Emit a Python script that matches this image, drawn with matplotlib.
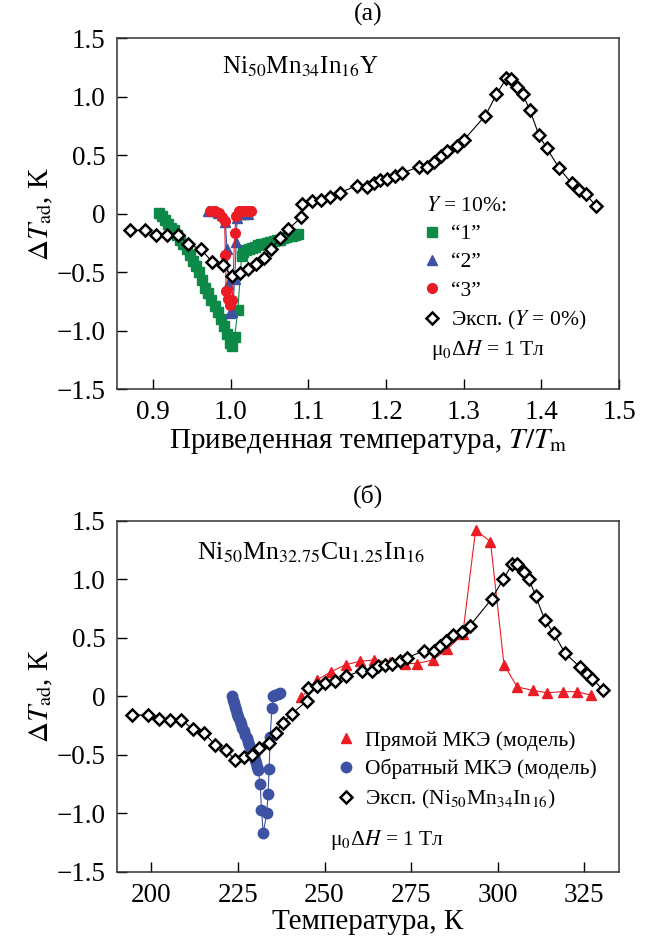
import matplotlib
matplotlib.use('Agg')
import matplotlib.pyplot as plt
from matplotlib.lines import Line2D

plt.rcParams['font.family'] = ['Liberation Serif', 'DejaVu Serif']
plt.rcParams['mathtext.fontset'] = 'stix'

# ---- (а) reduced temperature, Ni50Mn34In16Y ----
exp_a_x = [0.870, 0.890, 0.903, 0.918, 0.932, 0.945, 0.961, 0.976, 0.990, 1.001,
           1.012, 1.022, 1.032, 1.043, 1.052, 1.063, 1.074, 1.091, 1.092, 1.105,
           1.116, 1.128, 1.140, 1.162, 1.175, 1.184, 1.192, 1.201, 1.211, 1.221,
           1.242, 1.253, 1.262, 1.271, 1.279, 1.291, 1.300, 1.328, 1.342, 1.355,
           1.361, 1.369, 1.376, 1.385, 1.397, 1.407, 1.423, 1.439, 1.449, 1.457,
           1.470]
exp_a_y = [-0.14, -0.14, -0.18, -0.18, -0.18, -0.26, -0.30, -0.41, -0.44, -0.53,
           -0.51, -0.47, -0.43, -0.38, -0.30, -0.21, -0.13, -0.03, 0.08, 0.11,
           0.12, 0.14, 0.18, 0.24, 0.23, 0.26, 0.29, 0.30, 0.32, 0.35,
           0.40, 0.40, 0.44, 0.49, 0.54, 0.58, 0.63, 0.84, 1.02, 1.16,
           1.15, 1.08, 1.02, 0.89, 0.67, 0.56, 0.39, 0.26, 0.20, 0.17,
           0.07]

model1_x = [0.907, 0.911, 0.915, 0.919, 0.923, 0.927, 0.931, 0.935, 0.939, 0.943,
            0.947, 0.951, 0.955, 0.959, 0.963, 0.967, 0.971, 0.975, 0.979, 0.983,
            0.987, 0.991, 0.995, 0.999, 1.001, 1.005, 1.009,
            1.014, 1.016, 1.019, 1.023, 1.027, 1.031, 1.035, 1.039, 1.043, 1.047,
            1.051, 1.055, 1.059, 1.063, 1.067, 1.071, 1.075, 1.079, 1.083, 1.087]
model1_y = [0.01, -0.02, -0.05, -0.09, -0.12, -0.14, -0.18, -0.22, -0.26, -0.30,
            -0.35, -0.40, -0.45, -0.50, -0.57, -0.63, -0.68, -0.74, -0.79, -0.84,
            -0.90, -0.96, -1.03, -1.10, -1.13, -1.05, -0.82,
            -0.36, -0.33, -0.31, -0.30, -0.29, -0.28, -0.27, -0.26, -0.26, -0.25,
            -0.24, -0.23, -0.22, -0.22, -0.21, -0.20, -0.19, -0.19, -0.18, -0.17]

model2_x = [0.971, 0.977, 0.983, 0.989, 0.993, 0.995, 0.997, 0.999, 1.002, 1.005,
            1.007, 1.008, 1.012, 1.017, 1.022]
model2_y = [0.02, 0.02, 0.01, -0.01, -0.07, -0.30, -0.60, -0.85, -0.84, -0.56,
            -0.24, -0.04, 0.00, 0.00, 0.00]

model3_x = [0.973, 0.979, 0.985, 0.989, 0.992, 0.993, 0.994, 0.997, 0.999, 1.002,
            1.005, 1.007, 1.011, 1.015, 1.019, 1.023, 1.026]
model3_y = [0.02, 0.02, 0.01, -0.03, -0.06, -0.35, -0.66, -0.73, -0.78, -0.74,
            -0.16, -0.02, 0.02, 0.02, 0.02, 0.02, 0.02]

# ---- (б) temperature, Ni50Mn32.75Cu1.25In16 ----
exp_b_x = [194.4, 199.0, 202.1, 205.3, 208.7, 211.9, 215.2, 218.5, 221.5, 224.1,
           226.7, 229.0, 231.2, 234.0, 235.9, 237.9, 240.5, 244.9, 245.3, 247.9,
           250.2, 252.9, 256.2, 260.8, 263.7, 265.3, 267.5, 269.5, 271.9, 273.8,
           278.8, 281.5, 283.2, 285.2, 287.1, 289.7, 291.9, 298.2, 301.6, 304.2,
           305.6, 307.6, 309.0, 310.9, 313.6, 316.1, 319.4, 323.7, 325.7, 327.3,
           330.5]
exp_b_y = [-0.16, -0.16, -0.19, -0.20, -0.20, -0.28, -0.31, -0.42, -0.46, -0.54,
           -0.52, -0.50, -0.44, -0.40, -0.31, -0.23, -0.15, -0.04, 0.07, 0.09,
           0.11, 0.13, 0.17, 0.22, 0.22, 0.26, 0.27, 0.28, 0.30, 0.33,
           0.39, 0.39, 0.43, 0.47, 0.52, 0.55, 0.60, 0.83, 1.00, 1.13,
           1.13, 1.06, 1.00, 0.86, 0.65, 0.54, 0.37, 0.25, 0.19, 0.15,
           0.05]

direct_x = [243.3, 247.8, 251.9, 256.1, 260.3, 264.4, 268.8, 273.3, 276.7, 281.2,
            285.4, 289.9, 293.6, 297.9, 301.8, 305.6, 310.3, 314.3, 318.7, 322.8,
            326.9]
direct_y = [-0.01, 0.14, 0.21, 0.27, 0.30, 0.31, 0.29, 0.28, 0.28, 0.31,
            0.40, 0.53, 1.42, 1.32, 0.27, 0.08, 0.05, 0.03, 0.04, 0.04,
            0.01]

inverse_x = [223.2, 223.5, 223.8, 224.1, 224.4, 224.8, 225.1, 225.5, 225.9, 226.3,
             226.7, 227.1, 227.5, 227.9, 228.3, 228.7, 229.1, 229.5, 229.9, 230.3,
             230.6, 230.9, 231.4, 231.8, 232.3, 233.3, 233.7, 234.0, 234.3, 234.8,
             235.2, 235.8, 236.5, 237.2]
inverse_y = [0.00, -0.03, -0.06, -0.09, -0.12, -0.15, -0.18, -0.21, -0.24, -0.27,
             -0.30, -0.33, -0.36, -0.39, -0.42, -0.45, -0.48, -0.51, -0.54, -0.57,
             -0.60, -0.63, -0.75, -0.97, -1.17, -1.00, -0.83, -0.62, -0.35, -0.10,
             0.00, 0.01, 0.02, 0.03]

GREEN = '#0d8a47'
BLUE = '#3d52a3'
RED = '#ec1c24'

yticks = [-1.5, -1.0, -0.5, 0.0, 0.5, 1.0, 1.5]
ytick_labels = ['\u22121.5', '\u22121.0', '\u22120.5', '0', '0.5', '1.0', '1.5']

TICK_FS = 19.5
LABEL_FS = 21
LEG_FS = 15.5

fig = plt.figure(figsize=(6.49, 9.39), dpi=100)
ax1 = fig.add_axes([0.1798, 0.5854, 0.7740, 0.3738])
ax2 = fig.add_axes([0.1798, 0.0714, 0.7740, 0.3741])

diamond = dict(marker='D', ms=5.8, mfc='white', mec='black', mew=1.8,
               color='black', lw=0.8, zorder=6)

# panel (а)
ax1.plot(model1_x, model1_y, color=GREEN, lw=0.8, marker='s', ms=6.5,
         mec=GREEN, mfc=GREEN, zorder=2)
ax1.plot(model2_x, model2_y, color=BLUE, lw=0.8, marker='^', ms=7.5,
         mec=BLUE, mfc=BLUE, zorder=3)
ax1.plot(model3_x, model3_y, color=RED, lw=0.8, marker='o', ms=7,
         mec=RED, mfc=RED, zorder=4)
ax1.plot(exp_a_x, exp_a_y, **diamond)

ax1.set_xlim(0.853, 1.5)
ax1.set_xticks([0.9, 1.0, 1.1, 1.2, 1.3, 1.4, 1.5])
ax1.set_xticklabels(['0.9', '1.0', '1.1', '1.2', '1.3', '1.4', '1.5'])
ax1.set_xlabel(r'Приведенная температура, $T/T_{\rm m}$', fontsize=LABEL_FS, labelpad=1)
ax1.text(0.5, 1.069, '(а)', transform=ax1.transAxes, ha='center', va='center', fontsize=18.5)
ax1.text(0.21, 0.92, r'Ni$_{50}$Mn$_{34}$In$_{16}$Y', transform=ax1.transAxes,
         ha='left', va='center', fontsize=18)
ax1.text(0.625, 0.112, r'μ$_0$Δ$H$ = 1 Тл', transform=ax1.transAxes,
         ha='left', va='center', fontsize=15.5)

handles_a = [Line2D([], [], ls='none', marker='s', ms=6.5, color=GREEN),
             Line2D([], [], ls='none', marker='^', ms=7.5, color=BLUE),
             Line2D([], [], ls='none', marker='o', ms=7, color=RED),
             Line2D([], [], ls='none', marker='D', ms=5.8, mfc='white', mec='black', mew=1.8)]
leg_a = ax1.legend(handles_a, ['\u201c1\u201d', '\u201c2\u201d', '\u201c3\u201d', r'Эксп. ($Y$ = 0%)'],
                   title=r'$Y$ = 10%:', alignment='left', loc='upper left',
                   bbox_to_anchor=(0.615, 0.548), frameon=False, fontsize=LEG_FS,
                   title_fontsize=LEG_FS, handlelength=0.6, handletextpad=0.6,
                   labelspacing=0.38, borderpad=0, borderaxespad=0)

# panel (б)
ax2.plot(direct_x, direct_y, color=RED, lw=0.8, marker='^', ms=7.5,
         mec=RED, mfc=RED, zorder=3)
ax2.plot(inverse_x, inverse_y, color=BLUE, lw=0.8, marker='o', ms=7.5,
         mec=BLUE, mfc=BLUE, zorder=2)
ax2.plot(exp_b_x, exp_b_y, **diamond)

ax2.set_xlim(190, 335)
ax2.set_xticks([200, 225, 250, 275, 300, 325])
ax2.set_xlabel('Температура, К', fontsize=LABEL_FS, labelpad=1)
ax2.text(0.5, 1.069, '(б)', transform=ax2.transAxes, ha='center', va='center', fontsize=18.5)
ax2.text(0.16, 0.91, r'Ni$_{50}$Mn$_{32.75}$Cu$_{1.25}$In$_{16}$', transform=ax2.transAxes,
         ha='left', va='center', fontsize=18.5)
ax2.text(0.425, 0.09, r'μ$_0$Δ$H$ = 1 Тл', transform=ax2.transAxes,
         ha='left', va='center', fontsize=15.5)

handles_b = [Line2D([], [], ls='none', marker='^', ms=7.5, color=RED),
             Line2D([], [], ls='none', marker='o', ms=7.5, color=BLUE),
             Line2D([], [], ls='none', marker='D', ms=5.8, mfc='white', mec='black', mew=1.8)]
ax2.legend(handles_b, ['Прямой МКЭ (модель)', 'Обратный МКЭ (модель)',
                       r'Эксп. (Ni$_{50}$Mn$_{34}$In$_{16}$)'],
           loc='upper left', bbox_to_anchor=(0.443, 0.402), frameon=False, fontsize=LEG_FS,
           handlelength=0.6, handletextpad=0.6, labelspacing=0.38,
           borderpad=0, borderaxespad=0)

for ax in (ax1, ax2):
    ax.set_ylim(-1.5, 1.5)
    ax.set_yticks(yticks)
    ax.set_yticklabels(ytick_labels)
    ax.set_ylabel(r'$\Delta T_{\rm ad}$, К', fontsize=LABEL_FS)
    ax.yaxis.set_label_coords(-0.122, 0.5)
    ax.tick_params(direction='in', length=7, width=1, top=False, right=False,
                   labelsize=TICK_FS, pad=8)
    for sp in ax.spines.values():
        sp.set_color('#333333')
        sp.set_linewidth(1.1)

fig.savefig('out.png', dpi=100)
